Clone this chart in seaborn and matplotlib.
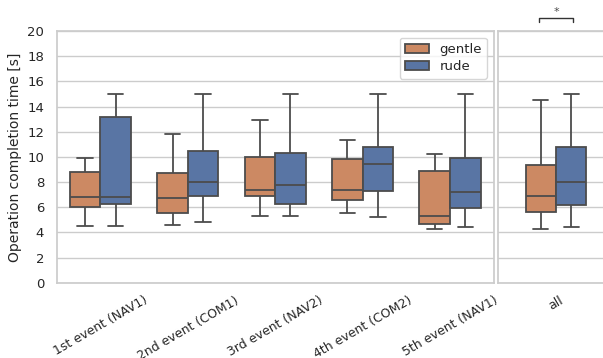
import numpy as np
import pandas as pd
import matplotlib
matplotlib.use("Agg")
import matplotlib.pyplot as plt
import seaborn as sns

events = ["1st event (NAV1)", "2nd event (COM1)", "3rd event (NAV2)",
          "4th event (COM2)", "5th event (NAV1)"]
groups = ["gentle", "rude"]

# five-number summaries: min, q1, median, q3, max
gentle_min = [4.5, 4.6, 5.3, 5.5, 4.3]
gentle_q1 = [6.0, 5.5, 6.9, 6.6, 4.7]
gentle_med = [6.8, 6.7, 7.4, 7.4, 5.3]
gentle_q3 = [8.8, 8.7, 10.0, 9.8, 8.9]
gentle_max = [9.9, 11.8, 12.9, 11.3, 10.2]

rude_min = [4.5, 4.85, 5.3, 5.2, 4.4]
rude_q1 = [6.25, 6.85, 6.25, 7.3, 5.9]
rude_med = [6.8, 8.0, 7.8, 9.4, 7.2]
rude_q3 = [13.2, 10.5, 10.3, 10.8, 9.9]
rude_max = [15.0, 15.0, 15.0, 15.0, 15.0]

all_gentle = [4.3, 5.65, 6.9, 9.35, 14.55]
all_rude = [4.4, 6.15, 8.0, 10.8, 15.0]

rows = []
for i, ev in enumerate(events):
    for v in (gentle_min[i], gentle_q1[i], gentle_med[i], gentle_q3[i], gentle_max[i]):
        rows.append((ev, "gentle", v))
    for v in (rude_min[i], rude_q1[i], rude_med[i], rude_q3[i], rude_max[i]):
        rows.append((ev, "rude", v))
df = pd.DataFrame(rows, columns=["event", "condition", "time"])

rows_all = [("all", "gentle", v) for v in all_gentle] + [("all", "rude", v) for v in all_rude]
df_all = pd.DataFrame(rows_all, columns=["event", "condition", "time"])

sns.set_theme(style="whitegrid")
plt.rcParams["font.family"] = ["DejaVu Sans"]
deep = sns.color_palette("deep")
pal = {"gentle": deep[1], "rude": deep[0]}

fig = plt.figure(figsize=(6.03, 3.58), dpi=100)
W, H = 603, 358
ax1 = fig.add_axes([56.7 / W, (H - 282.7) / H, 437 / W, 251.7 / H])
ax2 = fig.add_axes([497.5 / W, (H - 282.7) / H, 117 / W, 251.7 / H], sharey=ax1)

sns.boxplot(data=df, x="event", y="time", hue="condition", hue_order=groups,
            palette=pal, width=0.7, whis=(0, 100), linewidth=1.3, ax=ax1)
sns.boxplot(data=df_all, x="event", y="time", hue="condition", hue_order=groups,
            palette=pal, width=0.7, whis=(0, 100), linewidth=1.3, ax=ax2, legend=False)

ax1.set_ylim(0, 20)
ax1.set_yticks(np.arange(0, 21, 2))
ax1.set_xlabel("")
ax1.set_ylabel("Operation completion time [s]", fontsize=10)
ax1.tick_params(axis="y", labelsize=9.5, pad=3)
ax1.tick_params(axis="x", labelsize=9, rotation=30, pad=2)
ax1.set_xlim(-0.5, 4.5)

ax2.set_xlim(-0.68, 0.68)
ax2.set_xlabel("")
ax2.set_ylabel("")
ax2.tick_params(axis="y", labelleft=False, length=0)
ax2.tick_params(axis="x", labelsize=9, rotation=30, pad=2)

leg = ax1.legend(loc="upper right", fontsize=9.5, title=None,
                 handlelength=1.8, labelspacing=0.35, borderaxespad=0.5)

# significance bracket
x0, x1 = -0.2, 0.2
yb, yt = 20.7, 21.0
ax2.plot([x0, x0, x1, x1], [yb, yt, yt, yb], color="0.2", lw=1, clip_on=False)
ax2.text(0, 21.15, "*", ha="center", va="bottom", fontsize=8, color="0.3")

fig.savefig("out.png", dpi=100)
